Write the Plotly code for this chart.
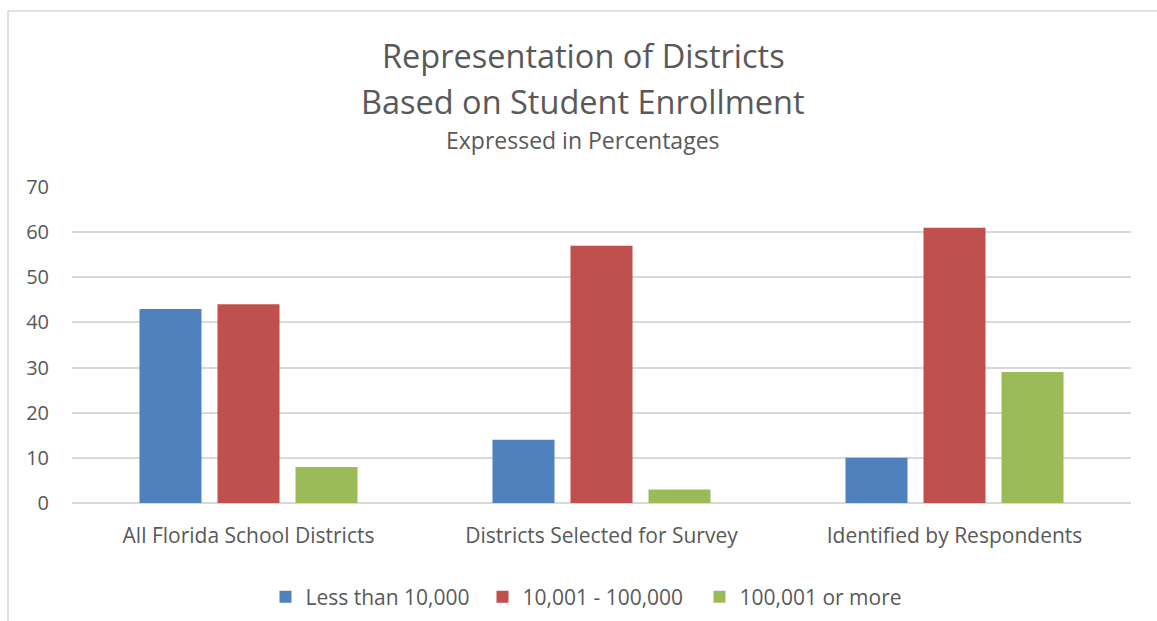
import plotly.graph_objects as go

categories = ["All Florida School Districts", "Districts Selected for Survey", "Identified by Respondents"]
series_names = ["Less than 10,000", "10,001 - 100,000", "100,001 or more"]
less_than_10k = [43, 14, 10]
mid_10k_100k = [44, 57, 61]
over_100k = [8, 3, 29]
colors = ["#4F81BD", "#C0504D", "#9BBB59"]
y_ticks = [0, 10, 20, 30, 40, 50, 60, 70]

FONT = "Open Sans"
TEXT = "#595959"
GRID = "#D9D9D9"

fig = go.Figure()
for name, vals, col in zip(series_names, [less_than_10k, mid_10k_100k, over_100k], colors):
    fig.add_trace(go.Bar(x=categories, y=vals, name=name, marker=dict(color=col, line=dict(width=0))))

W, H = 1157, 621
L, R, T, B = 72, 26, 187, 118
ph = H - T - B
pw = W - L - R

def py(y):
    return (H - B - y) / ph

def px(x):
    return (x - L) / pw

TITLE_X = px(583)

fig.update_layout(
    width=W, height=H,
    margin=dict(l=L, r=R, t=T, b=B, autoexpand=False),
    paper_bgcolor="white", plot_bgcolor="white",
    barmode="group", bargap=0.337, bargroupgap=0.205,
    font=dict(family=FONT, color=TEXT, size=20),
    showlegend=True,
    legend=dict(orientation="h", x=px(591), xanchor="center", y=py(597), yanchor="middle",
                font=dict(size=21, color=TEXT), itemwidth=30, traceorder="normal",
                entrywidth=172),
    xaxis=dict(showgrid=False, showline=False, ticks="", tickfont=dict(size=21, color=TEXT),
               ticklabelstandoff=18),
    yaxis=dict(range=[0, 70], tickvals=y_ticks, showgrid=True, gridcolor=GRID, gridwidth=1.5,
               zeroline=True, zerolinecolor=GRID, zerolinewidth=1.5, showline=False,
               tickfont=dict(size=20, color=TEXT), ticks="", ticklabelstandoff=22),
    annotations=[
        dict(text="Representation of Districts", x=TITLE_X, y=py(55), xref="paper", yref="paper",
             showarrow=False, font=dict(size=32.5, color=TEXT), xanchor="center", yanchor="middle"),
        dict(text="Based on Student Enrollment", x=TITLE_X, y=py(101), xref="paper", yref="paper",
             showarrow=False, font=dict(size=32.5, color=TEXT), xanchor="center", yanchor="middle"),
        dict(text="Expressed in Percentages", x=TITLE_X, y=py(140), xref="paper", yref="paper",
             showarrow=False, font=dict(size=23, color=TEXT), xanchor="center", yanchor="middle"),
    ],
    shapes=[
        dict(type="rect", xref="paper", yref="paper", x0=px(8), x1=px(1170), y0=py(640), y1=py(11),
             line=dict(color="#D9D9D9", width=1.5), fillcolor="rgba(0,0,0,0)", layer="below"),
    ],
)

fig.write_html("out.html")
